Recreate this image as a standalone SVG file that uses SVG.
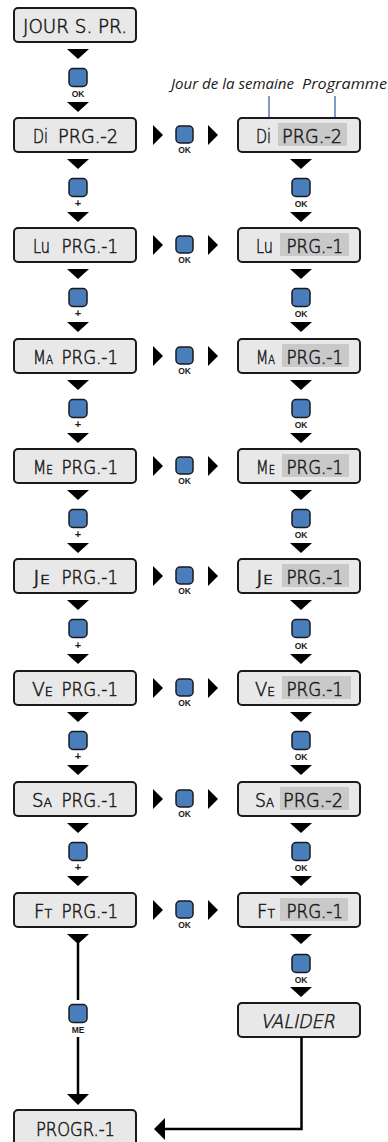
<svg xmlns="http://www.w3.org/2000/svg" width="388" height="1142" viewBox="0 0 388 1142">
<style>
.box{fill:#e8e8e9;stroke:#1a1a1a;stroke-width:2}
.hl{fill:#c9c9ca}
.lcd{font-family:"DejaVu Sans","Liberation Sans",sans-serif;font-weight:200;font-size:19px;fill:#1a1a1a;stroke:#1a1a1a;stroke-width:0.55}
.sc{font-variant:small-caps}
.btn{fill:#4a7dbb;stroke:#1a1a1a;stroke-width:1.5}
.bl{font-family:"Liberation Sans",Arial,sans-serif;font-weight:bold;font-size:8.5px;fill:#1a1a1a;text-anchor:middle}
.pl{font-size:11px}
.tri{fill:#000}
.ln{fill:none;stroke:#000;stroke-width:2.5}
.note{font-family:"Open Sans","Noto Sans",sans-serif;font-style:italic;font-size:14px;fill:#1a1a1a}
.nl{stroke:#2b5c9e;stroke-width:1.2}
</style>

<g id="annotations">
<text class="note" x="171" y="88.5" textLength="123" lengthAdjust="spacingAndGlyphs">Jour de la semaine</text>
<text class="note" x="302" y="88.5" textLength="85" lengthAdjust="spacingAndGlyphs">Programme</text>
<line class="nl" x1="269" y1="96" x2="269" y2="122"/>
<line class="nl" x1="335" y1="96" x2="335" y2="122"/>
</g>

<g id="n-jour"><rect class="box" x="14" y="8" width="122" height="34" rx="4"/><text class="lcd" x="75" y="33" text-anchor="middle" textLength="104" lengthAdjust="spacingAndGlyphs">JOUR S. PR.</text></g>

<g id="n-di-l"><rect class="box" x="14" y="118" width="122" height="34" rx="4"/><text class="lcd" x="33" y="142.5" textLength="15" lengthAdjust="spacingAndGlyphs">Di</text><text class="lcd" x="58" y="142.5" textLength="60" lengthAdjust="spacingAndGlyphs">PRG.-2</text></g>
<g id="n-lu-l"><rect class="box" x="14" y="228" width="122" height="34" rx="4"/><text class="lcd" x="33" y="252.5" textLength="17" lengthAdjust="spacingAndGlyphs">Lu</text><text class="lcd" x="61.5" y="252.5" textLength="56.5" lengthAdjust="spacingAndGlyphs">PRG.-1</text></g>
<g id="n-ma-l"><rect class="box" x="14" y="339" width="122" height="34" rx="4"/><text class="lcd sc" x="33" y="363.5" textLength="20" lengthAdjust="spacingAndGlyphs">Ma</text><text class="lcd" x="61.5" y="363.5" textLength="56.5" lengthAdjust="spacingAndGlyphs">PRG.-1</text></g>
<g id="n-me-l"><rect class="box" x="14" y="449" width="122" height="34" rx="4"/><text class="lcd sc" x="33" y="473.5" textLength="20" lengthAdjust="spacingAndGlyphs">Me</text><text class="lcd" x="61.5" y="473.5" textLength="56.5" lengthAdjust="spacingAndGlyphs">PRG.-1</text></g>
<g id="n-je-l"><rect class="box" x="14" y="559" width="122" height="34" rx="4"/><text class="lcd sc" x="33" y="583.5" textLength="17" lengthAdjust="spacingAndGlyphs">Je</text><text class="lcd" x="61.5" y="583.5" textLength="56.5" lengthAdjust="spacingAndGlyphs">PRG.-1</text></g>
<g id="n-ve-l"><rect class="box" x="14" y="671" width="122" height="34" rx="4"/><text class="lcd sc" x="32" y="695.5" textLength="21" lengthAdjust="spacingAndGlyphs">Ve</text><text class="lcd" x="61.5" y="695.5" textLength="56.5" lengthAdjust="spacingAndGlyphs">PRG.-1</text></g>
<g id="n-sa-l"><rect class="box" x="14" y="782" width="122" height="34" rx="4"/><text class="lcd sc" x="32" y="806.5" textLength="20" lengthAdjust="spacingAndGlyphs">Sa</text><text class="lcd" x="61.5" y="806.5" textLength="56.5" lengthAdjust="spacingAndGlyphs">PRG.-1</text></g>
<g id="n-ft-l"><rect class="box" x="14" y="893" width="122" height="34" rx="4"/><text class="lcd sc" x="34" y="917.5" textLength="18" lengthAdjust="spacingAndGlyphs">Ft</text><text class="lcd" x="61.5" y="917.5" textLength="56.5" lengthAdjust="spacingAndGlyphs">PRG.-1</text></g>
<g id="n-progr"><rect class="box" x="14" y="1110" width="122" height="40" rx="4"/><text class="lcd" x="75.5" y="1136" text-anchor="middle" textLength="79" lengthAdjust="spacingAndGlyphs">PROGR.-1</text></g>

<g id="n-di-r"><rect class="box" x="238" y="118" width="122" height="34" rx="4"/><rect class="hl" x="278" y="123" width="69" height="23"/><text class="lcd" x="256" y="142.5" textLength="15" lengthAdjust="spacingAndGlyphs">Di</text><text class="lcd" x="282" y="142.5" textLength="60" lengthAdjust="spacingAndGlyphs">PRG.-2</text></g>
<g id="n-lu-r"><rect class="box" x="238" y="228" width="122" height="34" rx="4"/><rect class="hl" x="280" y="233" width="69" height="23"/><text class="lcd" x="256" y="252.5" textLength="17" lengthAdjust="spacingAndGlyphs">Lu</text><text class="lcd" x="286.5" y="252.5" textLength="56.5" lengthAdjust="spacingAndGlyphs">PRG.-1</text></g>
<g id="n-ma-r"><rect class="box" x="238" y="339" width="122" height="34" rx="4"/><rect class="hl" x="282" y="344" width="67" height="23"/><text class="lcd sc" x="256" y="363.5" textLength="19" lengthAdjust="spacingAndGlyphs">Ma</text><text class="lcd" x="286.5" y="363.5" textLength="56.5" lengthAdjust="spacingAndGlyphs">PRG.-1</text></g>
<g id="n-me-r"><rect class="box" x="238" y="449" width="122" height="34" rx="4"/><rect class="hl" x="282" y="454" width="67" height="23"/><text class="lcd sc" x="256" y="473.5" textLength="19" lengthAdjust="spacingAndGlyphs">Me</text><text class="lcd" x="286.5" y="473.5" textLength="56.5" lengthAdjust="spacingAndGlyphs">PRG.-1</text></g>
<g id="n-je-r"><rect class="box" x="238" y="559" width="122" height="34" rx="4"/><rect class="hl" x="282" y="564" width="67" height="23"/><text class="lcd sc" x="256" y="583.5" textLength="17" lengthAdjust="spacingAndGlyphs">Je</text><text class="lcd" x="286.5" y="583.5" textLength="56.5" lengthAdjust="spacingAndGlyphs">PRG.-1</text></g>
<g id="n-ve-r"><rect class="box" x="238" y="671" width="122" height="34" rx="4"/><rect class="hl" x="282" y="676" width="69" height="23"/><text class="lcd sc" x="255" y="695.5" textLength="20" lengthAdjust="spacingAndGlyphs">Ve</text><text class="lcd" x="286.5" y="695.5" textLength="56.5" lengthAdjust="spacingAndGlyphs">PRG.-1</text></g>
<g id="n-sa-r"><rect class="box" x="238" y="782" width="122" height="34" rx="4"/><rect class="hl" x="280" y="787" width="69" height="23"/><text class="lcd sc" x="255" y="806.5" textLength="19" lengthAdjust="spacingAndGlyphs">Sa</text><text class="lcd" x="283" y="806.5" textLength="60" lengthAdjust="spacingAndGlyphs">PRG.-2</text></g>
<g id="n-ft-r"><rect class="box" x="238" y="893" width="122" height="34" rx="4"/><rect class="hl" x="280" y="898" width="68" height="23"/><text class="lcd sc" x="257" y="917.5" textLength="18" lengthAdjust="spacingAndGlyphs">Ft</text><text class="lcd" x="286.5" y="917.5" textLength="56.5" lengthAdjust="spacingAndGlyphs">PRG.-1</text></g>
<g id="n-valider"><rect class="box" x="238" y="1003" width="122" height="34" rx="4"/><text class="lcd" transform="translate(297.5,1028) skewX(-12)" x="0" y="0" text-anchor="middle" textLength="74" lengthAdjust="spacingAndGlyphs">VALIDER</text></g>

<g id="connectors">
<g id="c-left">
<polygon class="tri" points="67,49 89,49 78,59"/><polygon class="tri" points="67,102 89,102 78,112"/>
<polygon class="tri" points="67,159 89,159 78,169"/><polygon class="tri" points="67,212 89,212 78,222"/>
<polygon class="tri" points="67,269 89,269 78,279"/><polygon class="tri" points="67,322 89,322 78,332"/>
<polygon class="tri" points="67,380 89,380 78,390"/><polygon class="tri" points="67,433 89,433 78,443"/>
<polygon class="tri" points="67,490 89,490 78,500"/><polygon class="tri" points="67,543 89,543 78,553"/>
<polygon class="tri" points="67,600 89,600 78,610"/><polygon class="tri" points="67,654 89,654 78,664"/>
<polygon class="tri" points="67,712 89,712 78,722"/><polygon class="tri" points="67,765 89,765 78,775"/>
<polygon class="tri" points="67,823 89,823 78,833"/><polygon class="tri" points="67,876 89,876 78,886"/>
<polygon class="tri" points="67,934 89,934 78,944"/>
<path class="ln" d="M78,943 V1000 M78,1037 V1095"/>
<polygon class="tri" points="67,1094 89,1094 78,1105"/>
</g>
<g id="c-right">
<polygon class="tri" points="290,159 312,159 301,169"/><polygon class="tri" points="290,212 312,212 301,222"/>
<polygon class="tri" points="290,269 312,269 301,279"/><polygon class="tri" points="290,322 312,322 301,332"/>
<polygon class="tri" points="290,380 312,380 301,390"/><polygon class="tri" points="290,433 312,433 301,443"/>
<polygon class="tri" points="290,490 312,490 301,500"/><polygon class="tri" points="290,543 312,543 301,553"/>
<polygon class="tri" points="290,600 312,600 301,610"/><polygon class="tri" points="290,654 312,654 301,664"/>
<polygon class="tri" points="290,712 312,712 301,722"/><polygon class="tri" points="290,765 312,765 301,775"/>
<polygon class="tri" points="290,823 312,823 301,833"/><polygon class="tri" points="290,876 312,876 301,886"/>
<polygon class="tri" points="290,934 312,934 301,944"/><polygon class="tri" points="290,987 312,987 301,997"/>
<path class="ln" d="M301.5,1037 V1129 H164" stroke-linejoin="miter"/>
<polygon class="tri" points="154,1129 165,1118 165,1140"/>
</g>
<g id="c-horiz">
<polygon class="tri" points="153,125 153,145 163,135"/><polygon class="tri" points="208,125 208,145 218,135"/>
<polygon class="tri" points="153,235 153,255 163,245"/><polygon class="tri" points="208,235 208,255 218,245"/>
<polygon class="tri" points="153,346 153,366 163,356"/><polygon class="tri" points="208,346 208,366 218,356"/>
<polygon class="tri" points="153,456 153,476 163,466"/><polygon class="tri" points="208,456 208,476 218,466"/>
<polygon class="tri" points="153,566 153,586 163,576"/><polygon class="tri" points="208,566 208,586 218,576"/>
<polygon class="tri" points="153,678 153,698 163,688"/><polygon class="tri" points="208,678 208,698 218,688"/>
<polygon class="tri" points="153,789 153,809 163,799"/><polygon class="tri" points="208,789 208,809 218,799"/>
<polygon class="tri" points="153,900 153,920 163,910"/><polygon class="tri" points="208,900 208,920 218,910"/>
</g>
</g>

<g id="buttons">
<g id="b-left">
<rect class="btn" x="69" y="68.5" width="18" height="18" rx="4"/><text class="bl" x="78" y="97">OK</text>
<rect class="btn" x="69" y="178.5" width="18" height="18" rx="4"/><text class="bl pl" x="78" y="207">+</text>
<rect class="btn" x="69" y="288.5" width="18" height="18" rx="4"/><text class="bl pl" x="78" y="317">+</text>
<rect class="btn" x="69" y="399.5" width="18" height="18" rx="4"/><text class="bl pl" x="78" y="428">+</text>
<rect class="btn" x="69" y="509.5" width="18" height="18" rx="4"/><text class="bl pl" x="78" y="538">+</text>
<rect class="btn" x="69" y="619.5" width="18" height="18" rx="4"/><text class="bl pl" x="78" y="649">+</text>
<rect class="btn" x="69" y="731.5" width="18" height="18" rx="4"/><text class="bl pl" x="78" y="760">+</text>
<rect class="btn" x="69" y="842.5" width="18" height="18" rx="4"/><text class="bl pl" x="78" y="871">+</text>
<rect class="btn" x="69" y="1004.5" width="18" height="18" rx="4"/><text class="bl" x="78" y="1033">ME</text>
</g>
<g id="b-right">
<rect class="btn" x="292" y="178.5" width="18" height="18" rx="4"/><text class="bl" x="301" y="207">OK</text>
<rect class="btn" x="292" y="288.5" width="18" height="18" rx="4"/><text class="bl" x="301" y="317">OK</text>
<rect class="btn" x="292" y="399.5" width="18" height="18" rx="4"/><text class="bl" x="301" y="428">OK</text>
<rect class="btn" x="292" y="509.5" width="18" height="18" rx="4"/><text class="bl" x="301" y="538">OK</text>
<rect class="btn" x="292" y="619.5" width="18" height="18" rx="4"/><text class="bl" x="301" y="649">OK</text>
<rect class="btn" x="292" y="731.5" width="18" height="18" rx="4"/><text class="bl" x="301" y="760">OK</text>
<rect class="btn" x="292" y="842.5" width="18" height="18" rx="4"/><text class="bl" x="301" y="871">OK</text>
<rect class="btn" x="292" y="954.5" width="18" height="18" rx="4"/><text class="bl" x="301" y="983">OK</text>
</g>
<g id="b-mid">
<rect class="btn" x="176" y="126" width="17" height="17" rx="4"/><text class="bl" x="184.5" y="153">OK</text>
<rect class="btn" x="176" y="236" width="17" height="17" rx="4"/><text class="bl" x="184.5" y="263">OK</text>
<rect class="btn" x="176" y="347" width="17" height="17" rx="4"/><text class="bl" x="184.5" y="374">OK</text>
<rect class="btn" x="176" y="457" width="17" height="17" rx="4"/><text class="bl" x="184.5" y="484">OK</text>
<rect class="btn" x="176" y="567" width="17" height="17" rx="4"/><text class="bl" x="184.5" y="594">OK</text>
<rect class="btn" x="176" y="679" width="17" height="17" rx="4"/><text class="bl" x="184.5" y="706">OK</text>
<rect class="btn" x="176" y="790" width="17" height="17" rx="4"/><text class="bl" x="184.5" y="817">OK</text>
<rect class="btn" x="176" y="901" width="17" height="17" rx="4"/><text class="bl" x="184.5" y="928">OK</text>
</g>
</g>
</svg>
